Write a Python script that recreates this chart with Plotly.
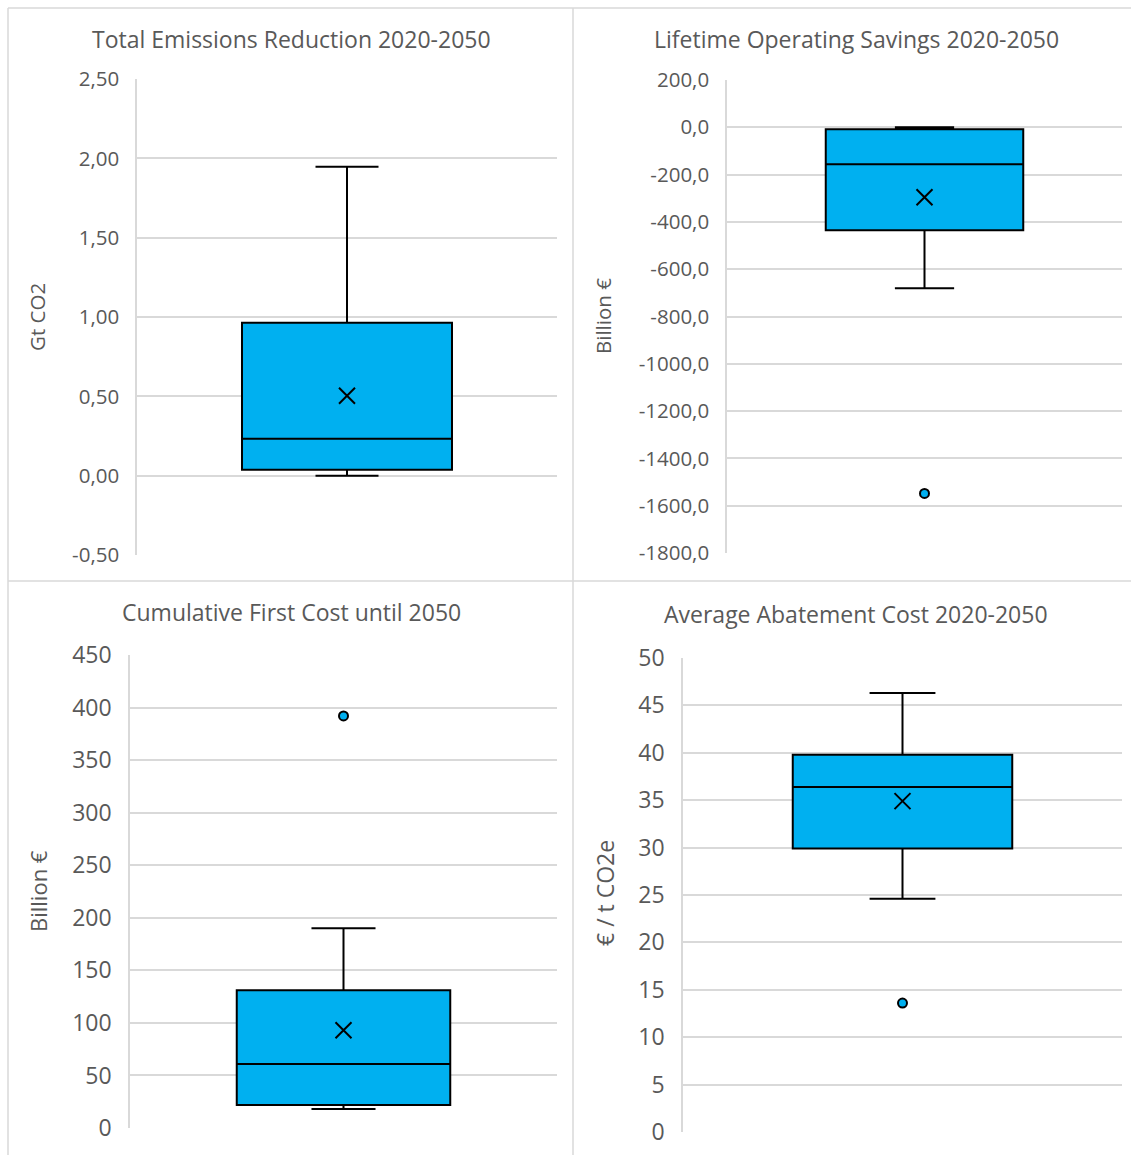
import plotly.graph_objects as go

# ---- data ----
titles = ["Total Emissions Reduction 2020-2050", "Lifetime Operating Savings 2020-2050",
          "Cumulative First Cost until 2050", "Average Abatement Cost 2020-2050"]
ytitles = ["Gt CO2", "Billion €", "Billion €", "€ / t CO2e"]
q1 = [0.038, -435.0, 22.0, 29.9]
median = [0.233, -156.0, 61.0, 36.4]
q3 = [0.964, -8.5, 131.0, 39.8]
lower = [0.0, -681.0, 18.0, 24.6]
upper = [1.947, 0.0, 190.0, 46.3]
mean = [0.504, -296.0, 93.0, 34.9]
outliers = [[], [-1548.0], [392.0], [13.6]]
yranges = [[-0.5, 2.5], [-1800, 200], [0, 450], [0, 50]]
dticks = [0.5, 200, 50, 5]
decimals = [2, 1, 0, 0]

# ---- layout geometry (pixels) ----
W, H = 1131, 1155
plot_px = [(137, 557, 79, 555), (727, 1122, 80, 553), (130, 557, 655, 1128), (683, 1122, 658, 1132)]
title_px = [(291, 39), (856, 39), (291, 612), (856, 614)]
ytitle_px = [(37, 317), (603, 316), (38, 891), (605, 893)]
tick_size = [20.5, 20.5, 23, 23]
ytitle_size = [20.5, 20.5, 22, 23]
title_size = [23, 23, 23, 23]

BLUE = "#00b0f0"
GREY = "#595959"
GRID = "#d9d9d9"
FONT = "Open Sans"

fig = go.Figure()
layout = dict(width=W, height=H, margin=dict(l=0, r=0, t=0, b=0, autoexpand=False),
              paper_bgcolor="white", plot_bgcolor="white", showlegend=False,
              separators=",.", font=dict(family=FONT, color=GREY))
annotations = []
shapes = []

for i in range(4):
    n = "" if i == 0 else str(i + 1)
    xa, ya = "x" + n, "y" + n
    x0, x1, y0, y1 = plot_px[i]
    fig.add_trace(go.Box(
        x=[0], q1=[q1[i]], median=[median[i]], q3=[q3[i]],
        lowerfence=[lower[i]], upperfence=[upper[i]],
        fillcolor=BLUE, line=dict(color="black", width=2),
        width=1.0, whiskerwidth=0.3, boxpoints=False,
        xaxis=xa, yaxis=ya, hoverinfo="skip"))
    fig.add_trace(go.Scatter(
        x=[0], y=[mean[i]], mode="markers", xaxis=xa, yaxis=ya,
        marker=dict(symbol="x-thin-open", size=16, color="black",
                    line=dict(color="black", width=2)), hoverinfo="skip"))
    if outliers[i]:
        fig.add_trace(go.Scatter(
            x=[0] * len(outliers[i]), y=outliers[i], mode="markers", xaxis=xa, yaxis=ya,
            marker=dict(symbol="circle", size=9, color=BLUE,
                        line=dict(color="black", width=2)), hoverinfo="skip"))
    lo, hi = yranges[i]
    k = int(round((hi - lo) / dticks[i]))
    tv = [lo + j * dticks[i] for j in range(k + 1)]
    tt = [(f"{v:.{decimals[i]}f}").replace(".", ",") for v in tv]
    layout["xaxis" + n] = dict(domain=[x0 / W, x1 / W], range=[-1, 1], anchor=ya,
                               showgrid=False, zeroline=False, showticklabels=False,
                               showline=False, fixedrange=True, automargin=False)
    layout["yaxis" + n] = dict(domain=[1 - y1 / H, 1 - y0 / H], range=[lo, hi], anchor=xa,
                               tickmode="array", tickvals=tv, ticktext=tt,
                               showgrid=True, gridcolor=GRID, gridwidth=1.5,
                               zeroline=False, showline=True, linecolor=GRID, linewidth=1.5,
                               ticks="", ticklabelstandoff=12, automargin=False,
                               tickfont=dict(family=FONT, size=tick_size[i], color=GREY))
    tx, ty = title_px[i]
    annotations.append(dict(text=titles[i], x=tx / W, y=1 - ty / H, xref="paper", yref="paper",
                            showarrow=False, xanchor="center", yanchor="middle",
                            font=dict(family=FONT, size=title_size[i], color=GREY)))
    ax_, ay_ = ytitle_px[i]
    annotations.append(dict(text=ytitles[i], x=ax_ / W, y=1 - ay_ / H, xref="paper", yref="paper",
                            showarrow=False, xanchor="center", yanchor="middle", textangle=-90,
                            font=dict(family=FONT, size=ytitle_size[i], color=GREY)))

# panel borders
def line(xa0, ya0, xa1, ya1):
    shapes.append(dict(type="line", xref="paper", yref="paper",
                       x0=xa0 / W, y0=1 - ya0 / H, x1=xa1 / W, y1=1 - ya1 / H,
                       line=dict(color=GRID, width=1.5)))

line(8, 8, W, 8)
line(8, 8, 8, H)
line(573, 8, 573, H)
line(8, 581, W, 581)

layout["annotations"] = annotations
layout["shapes"] = shapes
fig.update_layout(**layout)
fig.write_html("out.html")
